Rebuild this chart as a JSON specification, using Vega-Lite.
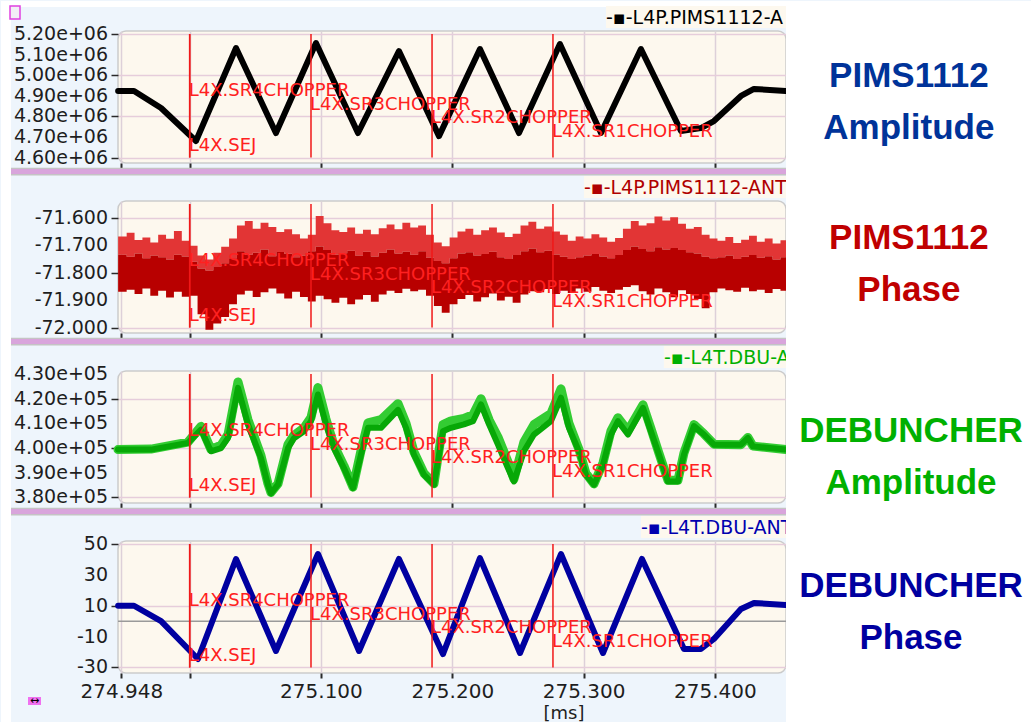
{
"$schema": "https://vega.github.io/schema/vega-lite/v6.json",
"background": "#eef5fc",
"padding": 0,
"autosize": {"type": "pad"},
"config": {
  "view": {"fill": "#fdf8ee", "stroke": "#cbcbcb", "strokeWidth": 1.5, "cornerRadius": 8},
  "axis": {"domain": false, "labelFont": "DejaVu Sans", "labelFontSize": 19, "labelColor": "#1e1e1e", "tickColor": "#2a2a2a", "tickWidth": 1.5, "gridColor": "#e6cddb", "gridWidth": 1.5, "labelOverlap": false, "labelFlush": false, "labelBound": false},
  "axisY": {"tickSize": 7, "labelPadding": 3},
  "axisX": {"tickSize": 5, "tickWidth": 2, "gridColor": "#ddd0d9", "labelFontSize": 20, "labelPadding": 3}
},
"datasets": {
  "markers": [
    {"marker": "L4X.SR4CHOPPER", "t": 275.0, "lane": 0},
    {"marker": "L4X.SEJ", "t": 275.0, "lane": 4},
    {"marker": "L4X.SR3CHOPPER", "t": 275.0924, "lane": 1},
    {"marker": "L4X.SR2CHOPPER", "t": 275.1846, "lane": 2},
    {"marker": "L4X.SR1CHOPPER", "t": 275.2767, "lane": 3}
  ],
  "yt1": [
    {"v": 4600000, "label": "4.60e+06"}, {"v": 4700000, "label": "4.70e+06"}, {"v": 4800000, "label": "4.80e+06"},
    {"v": 4900000, "label": "4.90e+06"}, {"v": 5000000, "label": "5.00e+06"}, {"v": 5100000, "label": "5.10e+06"},
    {"v": 5200000, "label": "5.20e+06"}
  ],
  "yt2": [
    {"v": -72.0, "label": "-72.000"}, {"v": -71.9, "label": "-71.900"}, {"v": -71.8, "label": "-71.800"},
    {"v": -71.7, "label": "-71.700"}, {"v": -71.6, "label": "-71.600"}
  ],
  "yt3": [
    {"v": 380000, "label": "3.80e+05"}, {"v": 390000, "label": "3.90e+05"}, {"v": 400000, "label": "4.00e+05"},
    {"v": 410000, "label": "4.10e+05"}, {"v": 420000, "label": "4.20e+05"}, {"v": 430000, "label": "4.30e+05"}
  ],
  "yt4": [
    {"v": -30, "label": "-30"}, {"v": -10, "label": "-10"}, {"v": 10, "label": "10"},
    {"v": 30, "label": "30"}, {"v": 50, "label": "50"}
  ],
  "pimsAmp": [
    {"t": 274.9455, "v": 4923000}, {"t": 274.9576, "v": 4923000}, {"t": 274.9782, "v": 4840500},
    {"t": 275.0048, "v": 4680000}, {"t": 275.0353, "v": 5132000}, {"t": 275.0657, "v": 4719000},
    {"t": 275.0962, "v": 5156000}, {"t": 275.1282, "v": 4719000}, {"t": 275.1594, "v": 5117000},
    {"t": 275.1899, "v": 4704000}, {"t": 275.2211, "v": 5127000}, {"t": 275.2508, "v": 4719000},
    {"t": 275.2820, "v": 5151000}, {"t": 275.3133, "v": 4719000}, {"t": 275.3437, "v": 5127000},
    {"t": 275.3742, "v": 4729000}, {"t": 275.3894, "v": 4743000}, {"t": 275.3993, "v": 4777000},
    {"t": 275.4199, "v": 4899000}, {"t": 275.4298, "v": 4933000}, {"t": 275.4540, "v": 4923000}
  ],
  "pimsPhase": [
    {"t": 274.9455, "top": -71.668, "mid": -71.735, "bot": -71.870},
    {"t": 274.952, "top": -71.655, "mid": -71.742, "bot": -71.862},
    {"t": 274.958, "top": -71.681, "mid": -71.730, "bot": -71.878},
    {"t": 274.964, "top": -71.672, "mid": -71.748, "bot": -71.858},
    {"t": 274.970, "top": -71.690, "mid": -71.738, "bot": -71.884},
    {"t": 274.976, "top": -71.662, "mid": -71.744, "bot": -71.866},
    {"t": 274.982, "top": -71.677, "mid": -71.752, "bot": -71.891},
    {"t": 274.988, "top": -71.648, "mid": -71.735, "bot": -71.870},
    {"t": 274.994, "top": -71.684, "mid": -71.741, "bot": -71.888},
    {"t": 275.000, "top": -71.702, "mid": -71.760, "bot": -71.884},
    {"t": 275.006, "top": -71.738, "mid": -71.785, "bot": -71.952},
    {"t": 275.012, "top": -71.752, "mid": -71.792, "bot": -72.008},
    {"t": 275.018, "top": -71.728, "mid": -71.780, "bot": -71.985},
    {"t": 275.024, "top": -71.706, "mid": -71.766, "bot": -71.962},
    {"t": 275.030, "top": -71.676, "mid": -71.748, "bot": -71.915},
    {"t": 275.036, "top": -71.628, "mid": -71.722, "bot": -71.880},
    {"t": 275.042, "top": -71.612, "mid": -71.735, "bot": -71.866},
    {"t": 275.048, "top": -71.640, "mid": -71.728, "bot": -71.889},
    {"t": 275.054, "top": -71.618, "mid": -71.716, "bot": -71.872},
    {"t": 275.060, "top": -71.634, "mid": -71.740, "bot": -71.858},
    {"t": 275.066, "top": -71.652, "mid": -71.725, "bot": -71.876},
    {"t": 275.072, "top": -71.642, "mid": -71.731, "bot": -71.894},
    {"t": 275.078, "top": -71.660, "mid": -71.744, "bot": -71.870},
    {"t": 275.084, "top": -71.676, "mid": -71.738, "bot": -71.889},
    {"t": 275.090, "top": -71.662, "mid": -71.722, "bot": -71.905},
    {"t": 275.096, "top": -71.594, "mid": -71.705, "bot": -71.884},
    {"t": 275.102, "top": -71.620, "mid": -71.718, "bot": -71.897},
    {"t": 275.108, "top": -71.646, "mid": -71.734, "bot": -71.910},
    {"t": 275.114, "top": -71.652, "mid": -71.729, "bot": -71.892},
    {"t": 275.120, "top": -71.636, "mid": -71.720, "bot": -71.915},
    {"t": 275.126, "top": -71.658, "mid": -71.738, "bot": -71.898},
    {"t": 275.132, "top": -71.644, "mid": -71.724, "bot": -71.882},
    {"t": 275.138, "top": -71.660, "mid": -71.741, "bot": -71.906},
    {"t": 275.144, "top": -71.638, "mid": -71.728, "bot": -71.880},
    {"t": 275.150, "top": -71.625, "mid": -71.716, "bot": -71.866},
    {"t": 275.156, "top": -71.642, "mid": -71.730, "bot": -71.874},
    {"t": 275.162, "top": -71.618, "mid": -71.724, "bot": -71.859},
    {"t": 275.168, "top": -71.636, "mid": -71.735, "bot": -71.868},
    {"t": 275.174, "top": -71.628, "mid": -71.722, "bot": -71.862},
    {"t": 275.180, "top": -71.662, "mid": -71.745, "bot": -71.884},
    {"t": 275.186, "top": -71.690, "mid": -71.758, "bot": -71.922},
    {"t": 275.192, "top": -71.704, "mid": -71.766, "bot": -71.946},
    {"t": 275.198, "top": -71.672, "mid": -71.748, "bot": -71.915},
    {"t": 275.204, "top": -71.650, "mid": -71.730, "bot": -71.896},
    {"t": 275.210, "top": -71.640, "mid": -71.726, "bot": -71.882},
    {"t": 275.216, "top": -71.662, "mid": -71.738, "bot": -71.905},
    {"t": 275.222, "top": -71.646, "mid": -71.732, "bot": -71.890},
    {"t": 275.228, "top": -71.636, "mid": -71.724, "bot": -71.876},
    {"t": 275.234, "top": -71.654, "mid": -71.744, "bot": -71.902},
    {"t": 275.240, "top": -71.670, "mid": -71.750, "bot": -71.888},
    {"t": 275.246, "top": -71.658, "mid": -71.736, "bot": -71.910},
    {"t": 275.252, "top": -71.628, "mid": -71.722, "bot": -71.880},
    {"t": 275.258, "top": -71.615, "mid": -71.712, "bot": -71.868},
    {"t": 275.264, "top": -71.640, "mid": -71.726, "bot": -71.872},
    {"t": 275.270, "top": -71.632, "mid": -71.720, "bot": -71.860},
    {"t": 275.276, "top": -71.650, "mid": -71.734, "bot": -71.878},
    {"t": 275.282, "top": -71.662, "mid": -71.742, "bot": -71.866},
    {"t": 275.288, "top": -71.684, "mid": -71.750, "bot": -71.874},
    {"t": 275.294, "top": -71.668, "mid": -71.744, "bot": -71.858},
    {"t": 275.300, "top": -71.676, "mid": -71.738, "bot": -71.870},
    {"t": 275.306, "top": -71.660, "mid": -71.732, "bot": -71.852},
    {"t": 275.312, "top": -71.672, "mid": -71.741, "bot": -71.866},
    {"t": 275.318, "top": -71.688, "mid": -71.748, "bot": -71.874},
    {"t": 275.324, "top": -71.674, "mid": -71.736, "bot": -71.862},
    {"t": 275.330, "top": -71.640, "mid": -71.718, "bot": -71.852},
    {"t": 275.336, "top": -71.612, "mid": -71.705, "bot": -71.846},
    {"t": 275.342, "top": -71.628, "mid": -71.714, "bot": -71.868},
    {"t": 275.348, "top": -71.620, "mid": -71.722, "bot": -71.880},
    {"t": 275.354, "top": -71.596, "mid": -71.708, "bot": -71.858},
    {"t": 275.360, "top": -71.610, "mid": -71.716, "bot": -71.872},
    {"t": 275.366, "top": -71.598, "mid": -71.710, "bot": -71.890},
    {"t": 275.372, "top": -71.622, "mid": -71.718, "bot": -71.864},
    {"t": 275.378, "top": -71.640, "mid": -71.726, "bot": -71.878},
    {"t": 275.384, "top": -71.634, "mid": -71.730, "bot": -71.896},
    {"t": 275.390, "top": -71.662, "mid": -71.742, "bot": -71.930},
    {"t": 275.396, "top": -71.676, "mid": -71.748, "bot": -71.872},
    {"t": 275.402, "top": -71.684, "mid": -71.744, "bot": -71.858},
    {"t": 275.408, "top": -71.670, "mid": -71.738, "bot": -71.864},
    {"t": 275.414, "top": -71.692, "mid": -71.750, "bot": -71.870},
    {"t": 275.420, "top": -71.680, "mid": -71.742, "bot": -71.855},
    {"t": 275.426, "top": -71.666, "mid": -71.736, "bot": -71.868},
    {"t": 275.432, "top": -71.688, "mid": -71.746, "bot": -71.862},
    {"t": 275.438, "top": -71.676, "mid": -71.740, "bot": -71.874},
    {"t": 275.444, "top": -71.694, "mid": -71.752, "bot": -71.860},
    {"t": 275.450, "top": -71.682, "mid": -71.744, "bot": -71.866},
    {"t": 275.4542, "top": -71.682, "mid": -71.744, "bot": -71.866}
  ],
  "dbuAmp": [
    {"t": 274.9454, "v1": 399400, "v2": 399400},
    {"t": 274.9705, "v1": 399400, "v2": 399600},
    {"t": 274.9987, "v1": 402100, "v2": 402400},
    {"t": 275.0086, "v1": 407500, "v2": 408800},
    {"t": 275.0162, "v1": 398700, "v2": 399500},
    {"t": 275.0239, "v1": 400000, "v2": 401200},
    {"t": 275.0292, "v1": 404100, "v2": 405500},
    {"t": 275.0368, "v1": 424400, "v2": 426800},
    {"t": 275.0444, "v1": 409600, "v2": 411500},
    {"t": 275.0543, "v1": 396000, "v2": 397000},
    {"t": 275.0596, "v1": 385200, "v2": 385600},
    {"t": 275.0619, "v1": 381700, "v2": 382000},
    {"t": 275.0673, "v1": 385300, "v2": 385600},
    {"t": 275.0749, "v1": 400000, "v2": 401500},
    {"t": 275.0794, "v1": 404000, "v2": 405200},
    {"t": 275.0871, "v1": 406800, "v2": 408200},
    {"t": 275.0924, "v1": 410900, "v2": 412400},
    {"t": 275.0977, "v1": 421700, "v2": 424500},
    {"t": 275.1038, "v1": 409600, "v2": 411800},
    {"t": 275.1099, "v1": 400000, "v2": 401200},
    {"t": 275.1175, "v1": 391900, "v2": 392800},
    {"t": 275.1244, "v1": 383800, "v2": 384200},
    {"t": 275.1305, "v1": 397400, "v2": 399000},
    {"t": 275.1358, "v1": 408200, "v2": 410200},
    {"t": 275.1457, "v1": 408200, "v2": 411500},
    {"t": 275.1587, "v1": 415500, "v2": 418000},
    {"t": 275.1648, "v1": 408200, "v2": 410000},
    {"t": 275.1708, "v1": 397400, "v2": 398500},
    {"t": 275.1785, "v1": 389200, "v2": 389800},
    {"t": 275.1861, "v1": 385200, "v2": 385600},
    {"t": 275.1929, "v1": 406800, "v2": 409500},
    {"t": 275.1990, "v1": 408200, "v2": 411000},
    {"t": 275.2089, "v1": 409600, "v2": 412000},
    {"t": 275.2158, "v1": 410900, "v2": 413500},
    {"t": 275.2219, "v1": 417700, "v2": 420000},
    {"t": 275.2280, "v1": 409600, "v2": 411500},
    {"t": 275.2348, "v1": 401400, "v2": 404500},
    {"t": 275.2424, "v1": 391900, "v2": 394500},
    {"t": 275.2470, "v1": 386500, "v2": 387500},
    {"t": 275.2546, "v1": 398700, "v2": 402500},
    {"t": 275.2622, "v1": 405500, "v2": 409500},
    {"t": 275.2752, "v1": 410900, "v2": 414000},
    {"t": 275.2828, "v1": 420400, "v2": 424000},
    {"t": 275.2889, "v1": 408200, "v2": 410000},
    {"t": 275.2965, "v1": 398700, "v2": 399500},
    {"t": 275.3018, "v1": 389200, "v2": 389800},
    {"t": 275.3079, "v1": 385200, "v2": 385500},
    {"t": 275.3148, "v1": 393300, "v2": 394000},
    {"t": 275.3209, "v1": 405500, "v2": 407000},
    {"t": 275.3262, "v1": 410900, "v2": 412300},
    {"t": 275.3338, "v1": 405500, "v2": 407000},
    {"t": 275.3453, "v1": 416300, "v2": 417500},
    {"t": 275.3513, "v1": 406800, "v2": 408000},
    {"t": 275.3574, "v1": 397400, "v2": 398000},
    {"t": 275.3643, "v1": 386500, "v2": 387000},
    {"t": 275.3719, "v1": 386500, "v2": 387000},
    {"t": 275.3765, "v1": 397400, "v2": 398000},
    {"t": 275.3841, "v1": 408900, "v2": 409500},
    {"t": 275.3917, "v1": 405500, "v2": 405800},
    {"t": 275.3993, "v1": 401400, "v2": 401600},
    {"t": 275.4199, "v1": 401400, "v2": 401400},
    {"t": 275.4252, "v1": 404100, "v2": 404300},
    {"t": 275.4290, "v1": 400700, "v2": 400800},
    {"t": 275.4540, "v1": 399400, "v2": 399400}
  ],
  "dbuPhase": [
    {"t": 274.9455, "v": 10}, {"t": 274.9576, "v": 10}, {"t": 274.9782, "v": 0},
    {"t": 275.0063, "v": -24.5}, {"t": 275.0353, "v": 40.3}, {"t": 275.0657, "v": -19.3},
    {"t": 275.0977, "v": 43.5}, {"t": 275.1290, "v": -19.3}, {"t": 275.1594, "v": 40.3},
    {"t": 275.1929, "v": -21.3}, {"t": 275.2211, "v": 40.9}, {"t": 275.2516, "v": -20.6},
    {"t": 275.2828, "v": 43.5}, {"t": 275.3148, "v": -20.6}, {"t": 275.3445, "v": 40.3},
    {"t": 275.3765, "v": -18}, {"t": 275.3894, "v": -18}, {"t": 275.3993, "v": -11.5},
    {"t": 275.4199, "v": 7.9}, {"t": 275.4298, "v": 11.8}, {"t": 275.4540, "v": 10.5}
  ]
},
"spacing": 38,
"bounds": "flush",
"vconcat": [
  {
    "width": 668, "height": 132,
    "resolve": {"scale": {"y": "independent"}},
    "layer": [
      {"layer": [
        {"data": {"values": [{}]}, "mark": {"type": "rect", "color": "#ffffff"},
         "encoding": {"x": {"datum": 274.8563, "type": "quantitative", "title": null}, "x2": {"datum": 274.8639}, "y": {"datum": 5360310, "type": "quantitative", "title": null}, "y2": {"datum": 4534450}}},
        {"data": {"values": [{}]}, "mark": {"type": "rect", "color": "#ffffff"},
         "encoding": {"x": {"datum": 274.8563, "type": "quantitative", "title": null}, "x2": {"datum": 275.6414}, "y": {"datum": 5360310, "type": "quantitative", "title": null}, "y2": {"datum": 5331162}}},
        {"data": {"values": [{}]}, "mark": {"type": "rect", "fill": "#f2eef6", "stroke": "#e040e0", "strokeWidth": 1.5},
         "encoding": {"x": {"datum": 274.86315, "type": "quantitative", "title": null}, "x2": {"datum": 274.87076}, "y": {"datum": 5336020, "type": "quantitative", "title": null}, "y2": {"datum": 5272866}}},
        {"data": {"values": [{}]}, "mark": {"type": "rule", "color": "#c4c4c4", "strokeWidth": 1.5},
         "encoding": {"x": {"datum": 274.8639, "type": "quantitative", "title": null}, "x2": {"datum": 275.4542}, "y": {"datum": 4546595, "type": "quantitative", "title": null}}},
        {"data": {"values": [{}]}, "mark": {"type": "rule", "color": "#d9a5dc", "strokeWidth": 5},
         "encoding": {"x": {"datum": 274.8639, "type": "quantitative", "title": null}, "x2": {"datum": 275.4542}, "y": {"datum": 4532021, "type": "quantitative", "title": null}}},
        {"data": {"values": [{}]}, "mark": {"type": "rule", "color": "#c4c4c4", "strokeWidth": 1.5},
         "encoding": {"x": {"datum": 274.8639, "type": "quantitative", "title": null}, "x2": {"datum": 275.4542}, "y": {"datum": 4515990, "type": "quantitative", "title": null}}},
        {"data": {"values": [{}]}, "mark": {"type": "rect", "color": "#fdf8ee"},
         "encoding": {"x": {"datum": 275.3171, "type": "quantitative", "title": null}, "x2": {"datum": 275.4542}, "y": {"datum": 5336020, "type": "quantitative", "title": null}, "y2": {"datum": 5229144}}},
        {"data": {"values": [{}]}, "mark": {"type": "text", "text": "-▪-L4P.PIMS1112-A", "align": "left", "baseline": "middle", "font": "DejaVu Sans", "fontSize": 19, "color": "#000000"},
         "encoding": {"x": {"datum": 275.3171, "type": "quantitative", "title": null}, "y": {"datum": 5277724, "type": "quantitative", "title": null}}},
        {"data": {"name": "yt1"}, "mark": {"type": "text", "align": "right", "baseline": "middle", "font": "DejaVu Sans", "fontSize": 19, "color": "#1e1e1e"},
         "encoding": {"x": {"datum": 274.93778, "type": "quantitative", "title": null}, "y": {"field": "v", "type": "quantitative", "title": null}, "text": {"field": "label"}}},
        {"data": {"name": "pimsAmp"}, "mark": {"type": "line", "color": "#000000", "strokeWidth": 6, "strokeJoin": "round", "strokeCap": "round"},
         "encoding": {
           "x": {"field": "t", "type": "quantitative", "title": null, "scale": {"domain": [274.9454, 275.4542], "nice": false, "zero": false}, "axis": {"values": [274.948, 275, 275.1, 275.2, 275.3, 275.4], "labels": false, "grid": true}},
           "y": {"field": "v", "type": "quantitative", "title": null, "scale": {"domain": [4573314, 5214570], "nice": false, "zero": false}, "axis": {"values": [4600000, 4700000, 4800000, 4900000, 5000000, 5100000, 5200000], "labels": false, "grid": true}}
         }},
        {"data": {"name": "markers"}, "mark": {"type": "rule", "color": "#f01818", "strokeWidth": 1.5},
         "encoding": {"x": {"field": "t", "type": "quantitative", "title": null}, "y": {"datum": 5200000, "type": "quantitative", "title": null}, "y2": {"datum": 4600000}}},
        {"data": {"values": [{}]}, "mark": {"type": "rect", "color": "#ffffff"},
         "encoding": {"x": {"datum": 275.4542, "type": "quantitative", "title": null}, "x2": {"datum": 275.6414}, "y": {"datum": 5360310, "type": "quantitative", "title": null}, "y2": {"datum": 4534450}}},
        {"data": {"values": [{}]}, "mark": {"type": "text", "text": ["PIMS1112", "Amplitude"], "lineHeight": 52, "align": "center", "baseline": "middle", "font": "Liberation Sans", "fontSize": 35, "fontWeight": "bold", "color": "#003399"},
         "encoding": {"x": {"datum": 275.5478, "type": "quantitative", "title": null}, "y": {"datum": 4995960, "type": "quantitative", "title": null}}}
      ]},
      {"data": {"name": "markers"}, "mark": {"type": "text", "align": "left", "baseline": "middle", "font": "DejaVu Sans", "fontSize": 18, "color": "#ff2020", "dx": -1},
       "encoding": {"x": {"field": "t", "type": "quantitative", "title": null}, "y": {"field": "lane", "type": "quantitative", "title": null, "scale": {"domain": [-4.3636, 5.2364], "reverse": true, "nice": false, "zero": false}, "axis": null}, "text": {"field": "marker"}}}
    ]
  },
  {
    "width": 668, "height": 132,
    "resolve": {"scale": {"y": "independent"}},
    "layer": [
      {"layer": [
        {"data": {"values": [{}]}, "mark": {"type": "rect", "color": "#ffffff"},
         "encoding": {"x": {"datum": 274.8563, "type": "quantitative", "title": null}, "x2": {"datum": 274.8639}, "y": {"datum": -71.429759, "type": "quantitative", "title": null}, "y2": {"datum": -72.049188}}},
        {"data": {"values": [{}]}, "mark": {"type": "rule", "color": "#c4c4c4", "strokeWidth": 1.5},
         "encoding": {"x": {"datum": 274.8639, "type": "quantitative", "title": null}, "x2": {"datum": 275.4542}, "y": {"datum": -72.040079, "type": "quantitative", "title": null}}},
        {"data": {"values": [{}]}, "mark": {"type": "rule", "color": "#d9a5dc", "strokeWidth": 5},
         "encoding": {"x": {"datum": 274.8639, "type": "quantitative", "title": null}, "x2": {"datum": 275.4542}, "y": {"datum": -72.05101, "type": "quantitative", "title": null}}},
        {"data": {"values": [{}]}, "mark": {"type": "rule", "color": "#c4c4c4", "strokeWidth": 1.5},
         "encoding": {"x": {"datum": 274.8639, "type": "quantitative", "title": null}, "x2": {"datum": 275.4542}, "y": {"datum": -72.063034, "type": "quantitative", "title": null}}},
        {"data": {"values": [{}]}, "mark": {"type": "rect", "color": "#fdf8ee"},
         "encoding": {"x": {"datum": 275.3003, "type": "quantitative", "title": null}, "x2": {"datum": 275.4542}, "y": {"datum": -71.447978, "type": "quantitative", "title": null}, "y2": {"datum": -71.528139}}},
        {"data": {"values": [{}]}, "mark": {"type": "text", "text": "-▪-L4P.PIMS1112-ANT", "align": "left", "baseline": "middle", "font": "DejaVu Sans", "fontSize": 19, "color": "#b00000"},
         "encoding": {"x": {"datum": 275.3003, "type": "quantitative", "title": null}, "y": {"datum": -71.491702, "type": "quantitative", "title": null}}},
        {"data": {"name": "yt2"}, "mark": {"type": "text", "align": "right", "baseline": "middle", "font": "DejaVu Sans", "fontSize": 19, "color": "#1e1e1e"},
         "encoding": {"x": {"datum": 274.93778, "type": "quantitative", "title": null}, "y": {"field": "v", "type": "quantitative", "title": null}, "text": {"field": "label"}}},
        {"data": {"name": "pimsPhase"}, "mark": {"type": "area", "interpolate": "step-after", "color": "#e23535"},
         "encoding": {
           "x": {"field": "t", "type": "quantitative", "title": null, "scale": {"domain": [274.9454, 275.4542], "nice": false, "zero": false}, "axis": {"values": [274.948, 275, 275.1, 275.2, 275.3, 275.4], "labels": false, "grid": true}},
           "y": {"field": "top", "type": "quantitative", "title": null, "scale": {"domain": [-72.020038, -71.53907], "nice": false, "zero": false}, "axis": {"values": [-72.0, -71.95, -71.9, -71.85, -71.8, -71.75, -71.7, -71.65, -71.6, -71.55], "labels": false, "grid": true}},
           "y2": {"field": "mid"}
         }},
        {"data": {"name": "pimsPhase"}, "mark": {"type": "area", "interpolate": "step-after", "color": "#b80000"},
         "encoding": {
           "x": {"field": "t", "type": "quantitative", "title": null},
           "y": {"field": "mid", "type": "quantitative", "title": null},
           "y2": {"field": "bot"}
         }},
        {"data": {"name": "markers"}, "mark": {"type": "rule", "color": "#f01818", "strokeWidth": 1.5},
         "encoding": {"x": {"field": "t", "type": "quantitative", "title": null}, "y": {"datum": -71.55, "type": "quantitative", "title": null}, "y2": {"datum": -72.0}}},
        {"data": {"values": [{}]}, "mark": {"type": "rect", "color": "#ffffff"},
         "encoding": {"x": {"datum": 275.4542, "type": "quantitative", "title": null}, "x2": {"datum": 275.6414}, "y": {"datum": -71.429759, "type": "quantitative", "title": null}, "y2": {"datum": -72.049188}}},
        {"data": {"values": [{}]}, "mark": {"type": "text", "text": ["PIMS1112", "Phase"], "lineHeight": 52, "align": "center", "baseline": "middle", "font": "Liberation Sans", "fontSize": 35, "fontWeight": "bold", "color": "#c00000"},
         "encoding": {"x": {"datum": 275.5478, "type": "quantitative", "title": null}, "y": {"datum": -71.673887, "type": "quantitative", "title": null}}}
      ]},
      {"data": {"name": "markers"}, "mark": {"type": "text", "align": "left", "baseline": "middle", "font": "DejaVu Sans", "fontSize": 18, "color": "#ff2020", "dx": -1},
       "encoding": {"x": {"field": "t", "type": "quantitative", "title": null}, "y": {"field": "lane", "type": "quantitative", "title": null, "scale": {"domain": [-4.3636, 5.2364], "reverse": true, "nice": false, "zero": false}, "axis": null}, "text": {"field": "marker"}}}
    ]
  },
  {
    "width": 668, "height": 132,
    "resolve": {"scale": {"y": "independent"}},
    "layer": [
      {"layer": [
        {"data": {"values": [{}]}, "mark": {"type": "rect", "color": "#ffffff"},
         "encoding": {"x": {"datum": 274.8563, "type": "quantitative", "title": null}, "x2": {"datum": 274.8639}, "y": {"datum": 443360.4, "type": "quantitative", "title": null}, "y2": {"datum": 374534.2}}},
        {"data": {"values": [{}]}, "mark": {"type": "rule", "color": "#c4c4c4", "strokeWidth": 1.5},
         "encoding": {"x": {"datum": 274.8639, "type": "quantitative", "title": null}, "x2": {"datum": 275.4542}, "y": {"datum": 375546.4, "type": "quantitative", "title": null}}},
        {"data": {"values": [{}]}, "mark": {"type": "rule", "color": "#d9a5dc", "strokeWidth": 5},
         "encoding": {"x": {"datum": 274.8639, "type": "quantitative", "title": null}, "x2": {"datum": 275.4542}, "y": {"datum": 374331.8, "type": "quantitative", "title": null}}},
        {"data": {"values": [{}]}, "mark": {"type": "rule", "color": "#c4c4c4", "strokeWidth": 1.5},
         "encoding": {"x": {"datum": 274.8639, "type": "quantitative", "title": null}, "x2": {"datum": 275.4542}, "y": {"datum": 372995.7, "type": "quantitative", "title": null}}},
        {"data": {"values": [{}]}, "mark": {"type": "rect", "color": "#fdf8ee"},
         "encoding": {"x": {"datum": 275.3612, "type": "quantitative", "title": null}, "x2": {"datum": 275.4542}, "y": {"datum": 441336.1, "type": "quantitative", "title": null}, "y2": {"datum": 432429.2}}},
        {"data": {"values": [{}]}, "mark": {"type": "text", "text": "-▪-L4T.DBU-A", "align": "left", "baseline": "middle", "font": "DejaVu Sans", "fontSize": 19, "color": "#00b000"},
         "encoding": {"x": {"datum": 275.3612, "type": "quantitative", "title": null}, "y": {"datum": 436477.8, "type": "quantitative", "title": null}}},
        {"data": {"name": "yt3"}, "mark": {"type": "text", "align": "right", "baseline": "middle", "font": "DejaVu Sans", "fontSize": 19, "color": "#1e1e1e"},
         "encoding": {"x": {"datum": 274.93778, "type": "quantitative", "title": null}, "y": {"field": "v", "type": "quantitative", "title": null}, "text": {"field": "label"}}},
        {"data": {"name": "dbuAmp"}, "mark": {"type": "line", "color": "#33cc33", "strokeWidth": 9, "strokeJoin": "round", "strokeCap": "round"},
         "encoding": {
           "x": {"field": "t", "type": "quantitative", "title": null, "scale": {"domain": [274.9454, 275.4542], "nice": false, "zero": false}, "axis": {"values": [274.948, 275, 275.1, 275.2, 275.3, 275.4], "labels": false, "grid": true}},
           "y": {"field": "v2", "type": "quantitative", "title": null, "scale": {"domain": [377773.1, 431214.6], "nice": false, "zero": false}, "axis": {"values": [380000, 390000, 400000, 410000, 420000, 430000], "labels": false, "grid": true}}
         }},
        {"data": {"name": "dbuAmp"}, "mark": {"type": "line", "color": "#07a807", "strokeWidth": 6, "strokeJoin": "round", "strokeCap": "round"},
         "encoding": {
           "x": {"field": "t", "type": "quantitative", "title": null},
           "y": {"field": "v1", "type": "quantitative", "title": null}
         }},
        {"data": {"name": "markers"}, "mark": {"type": "rule", "color": "#f01818", "strokeWidth": 1.5},
         "encoding": {"x": {"field": "t", "type": "quantitative", "title": null}, "y": {"datum": 430000, "type": "quantitative", "title": null}, "y2": {"datum": 380000}}},
        {"data": {"values": [{}]}, "mark": {"type": "rect", "color": "#ffffff"},
         "encoding": {"x": {"datum": 275.4542, "type": "quantitative", "title": null}, "x2": {"datum": 275.6414}, "y": {"datum": 443360.4, "type": "quantitative", "title": null}, "y2": {"datum": 374534.2}}},
        {"data": {"values": [{}]}, "mark": {"type": "text", "text": ["DEBUNCHER", "Amplitude"], "lineHeight": 52, "align": "center", "baseline": "middle", "font": "Liberation Sans", "fontSize": 35, "fontWeight": "bold", "color": "#00b000"},
         "encoding": {"x": {"datum": 275.5494, "type": "quantitative", "title": null}, "y": {"datum": 406923, "type": "quantitative", "title": null}}}
      ]},
      {"data": {"name": "markers"}, "mark": {"type": "text", "align": "left", "baseline": "middle", "font": "DejaVu Sans", "fontSize": 18, "color": "#ff2020", "dx": -1},
       "encoding": {"x": {"field": "t", "type": "quantitative", "title": null}, "y": {"field": "lane", "type": "quantitative", "title": null, "scale": {"domain": [-4.3636, 5.2364], "reverse": true, "nice": false, "zero": false}, "axis": null}, "text": {"field": "marker"}}}
    ]
  },
  {
    "width": 668, "height": 132,
    "resolve": {"scale": {"y": "independent"}},
    "layer": [
      {"layer": [
        {"data": {"values": [{}]}, "mark": {"type": "rect", "color": "#ffffff"},
         "encoding": {"x": {"datum": 274.8563, "type": "quantitative", "title": null}, "x2": {"datum": 274.8639}, "y": {"datum": 71.376, "type": "quantitative", "title": null}, "y2": {"datum": -65.886}}},
        {"data": {"values": [{}]}, "mark": {"type": "rect", "color": "#fdf8ee"},
         "encoding": {"x": {"datum": 275.3437, "type": "quantitative", "title": null}, "x2": {"datum": 275.4542}, "y": {"datum": 68.137, "type": "quantitative", "title": null}, "y2": {"datum": 53.886}}},
        {"data": {"values": [{}]}, "mark": {"type": "text", "text": "-▪-L4T.DBU-ANT", "align": "left", "baseline": "middle", "font": "DejaVu Sans", "fontSize": 19, "color": "#0000b0"},
         "encoding": {"x": {"datum": 275.3437, "type": "quantitative", "title": null}, "y": {"datum": 60.364, "type": "quantitative", "title": null}}},
        {"data": {"name": "yt4"}, "mark": {"type": "text", "align": "right", "baseline": "middle", "font": "DejaVu Sans", "fontSize": 19, "color": "#1e1e1e"},
         "encoding": {"x": {"datum": 274.93778, "type": "quantitative", "title": null}, "y": {"field": "v", "type": "quantitative", "title": null}, "text": {"field": "label"}}},
        {"data": {"values": [{}]}, "mark": {"type": "text", "text": "[ms]", "align": "center", "baseline": "middle", "font": "DejaVu Sans", "fontSize": 18, "color": "#1e1e1e"},
         "encoding": {"x": {"datum": 275.2851, "type": "quantitative", "title": null}, "y": {"datum": -60.121, "type": "quantitative", "title": null}}},
        {"data": {"values": [{}]}, "mark": {"type": "rect", "color": "#f070f0"},
         "encoding": {"x": {"datum": 274.87686, "type": "quantitative", "title": null}, "x2": {"datum": 274.88676}, "y": {"datum": -49.109, "type": "quantitative", "title": null}, "y2": {"datum": -54.291}}},
        {"data": {"values": [{}]}, "mark": {"type": "text", "text": "↔", "align": "center", "baseline": "middle", "font": "DejaVu Sans", "fontSize": 11, "color": "#000000"},
         "encoding": {"x": {"datum": 274.88181, "type": "quantitative", "title": null}, "y": {"datum": -51.7, "type": "quantitative", "title": null}}},
        {"data": {"values": [{}]}, "mark": {"type": "rule", "color": "#9a9a9a", "strokeWidth": 1.5},
         "encoding": {"x": {"datum": 274.9454, "type": "quantitative", "title": null}, "x2": {"datum": 275.4542}, "y": {"datum": 0, "type": "quantitative", "title": null}}},
        {"data": {"name": "dbuPhase"}, "mark": {"type": "line", "color": "#0000a0", "strokeWidth": 6, "strokeJoin": "round", "strokeCap": "round"},
         "encoding": {
           "x": {"field": "t", "type": "quantitative", "title": null, "scale": {"domain": [274.9454, 275.4542], "nice": false, "zero": false}, "axis": {"values": [274.948, 275, 275.1, 275.2, 275.3, 275.4], "labels": true, "labelExpr": "datum.value == 275 ? '' : format(datum.value, '.3f')", "labelOverlap": false, "grid": true, "labelPadding": 3}},
           "y": {"field": "v", "type": "quantitative", "title": null, "scale": {"domain": [-33.563, 51.943], "nice": false, "zero": false}, "axis": {"values": [-30, -20, -10, 0, 10, 20, 30, 40, 50], "labels": false, "grid": true}}
         }},
        {"data": {"name": "markers"}, "mark": {"type": "rule", "color": "#f01818", "strokeWidth": 1.5},
         "encoding": {"x": {"field": "t", "type": "quantitative", "title": null}, "y": {"datum": 50, "type": "quantitative", "title": null}, "y2": {"datum": -30}}},
        {"data": {"values": [{}]}, "mark": {"type": "rect", "color": "#ffffff"},
         "encoding": {"x": {"datum": 275.4542, "type": "quantitative", "title": null}, "x2": {"datum": 275.6414}, "y": {"datum": 71.376, "type": "quantitative", "title": null}, "y2": {"datum": -65.886}}},
        {"data": {"values": [{}]}, "mark": {"type": "text", "text": ["DEBUNCHER", "Phase"], "lineHeight": 52, "align": "center", "baseline": "middle", "font": "Liberation Sans", "fontSize": 35, "fontWeight": "bold", "color": "#0000a0"},
         "encoding": {"x": {"datum": 275.5494, "type": "quantitative", "title": null}, "y": {"datum": 22.793, "type": "quantitative", "title": null}}}
      ]},
      {"data": {"name": "markers"}, "mark": {"type": "text", "align": "left", "baseline": "middle", "font": "DejaVu Sans", "fontSize": 18, "color": "#ff2020", "dx": -1},
       "encoding": {"x": {"field": "t", "type": "quantitative", "title": null}, "y": {"field": "lane", "type": "quantitative", "title": null, "scale": {"domain": [-4.3636, 5.2364], "reverse": true, "nice": false, "zero": false}, "axis": null}, "text": {"field": "marker"}}}
    ]
  }
]
}
